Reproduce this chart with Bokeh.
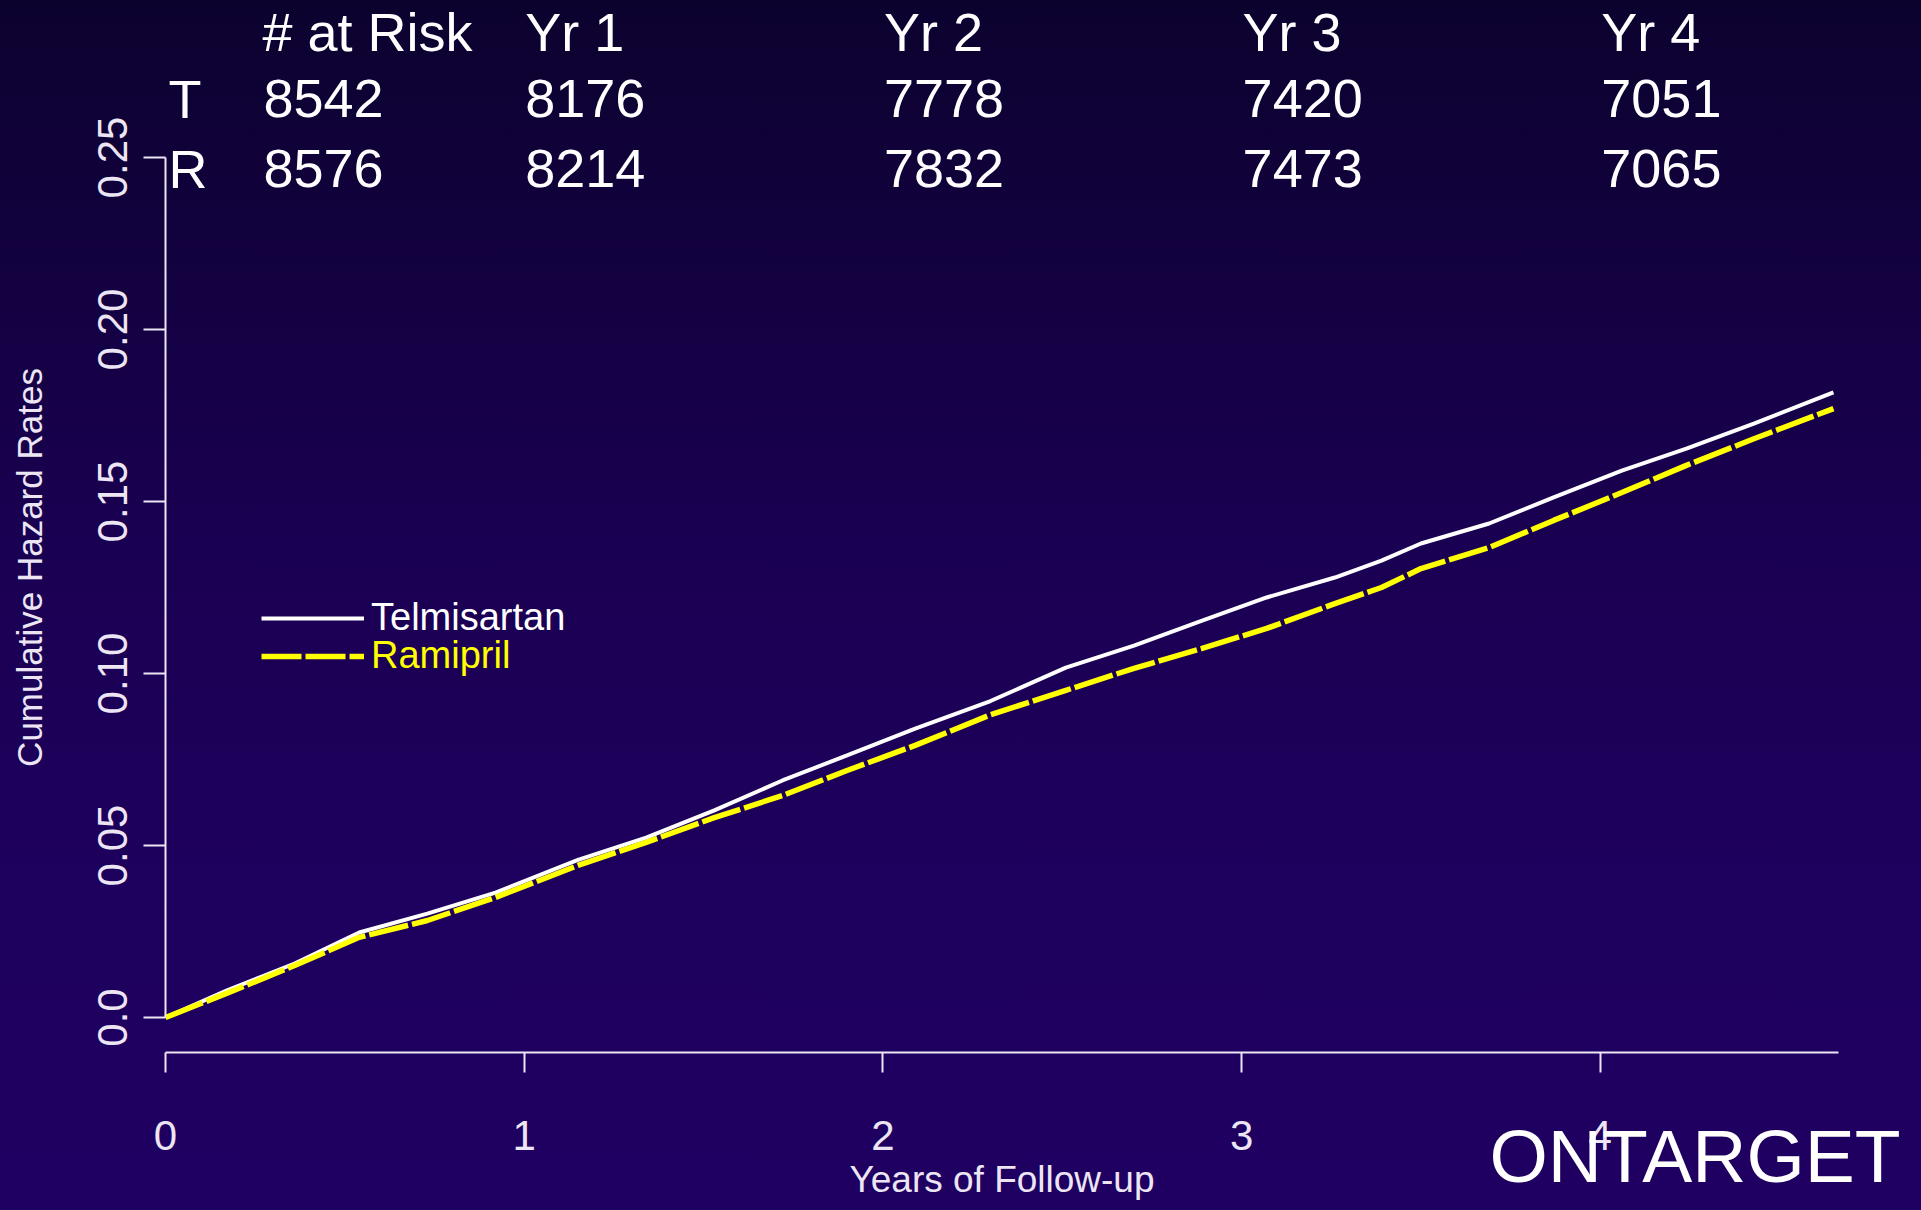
from bokeh.plotting import figure
from bokeh.models import (LinearAxis, FixedTicker, CustomJSTickFormatter, Legend,
                          LegendItem, ColumnDataSource, Label, Range1d)
from bokeh.core.properties import value
from bokeh.embed import file_html
from bokeh.resources import INLINE

# ---------------- data ----------------
years = [0.0, 0.17, 0.36, 0.54, 0.73, 0.92, 1.15, 1.34, 1.53, 1.72, 1.90, 2.09, 2.30,
         2.51, 2.70, 2.89, 3.07, 3.26, 3.39, 3.50, 3.69, 3.87, 4.06, 4.24, 4.43, 4.65]
telmisartan = [0.0, 0.0078, 0.0157, 0.0247, 0.0302, 0.0363, 0.0458, 0.0523, 0.0602,
               0.0689, 0.0762, 0.0840, 0.0920, 0.1017, 0.1081, 0.1154, 0.1221, 0.1279,
               0.1328, 0.1378, 0.1436, 0.1512, 0.1590, 0.1654, 0.1727, 0.1817]
ramipril = [0.0, 0.0070, 0.0151, 0.0233, 0.0282, 0.0349, 0.0442, 0.0509, 0.0581,
            0.0645, 0.0718, 0.0791, 0.0880, 0.0951, 0.1015, 0.1073, 0.1131, 0.1203,
            0.1250, 0.1305, 0.1366, 0.1445, 0.1526, 0.1605, 0.1683, 0.1770]

risk_years = [1, 2, 3, 4]
risk_header = ["Yr 1", "Yr 2", "Yr 3", "Yr 4"]
risk_T = [8176, 7778, 7420, 7051]
risk_R = [8214, 7832, 7473, 7065]
risk_T0 = 8542
risk_R0 = 8576

y_ticks = [0.0, 0.05, 0.10, 0.15, 0.20, 0.25]
x_ticks = [0, 1, 2, 3, 4]

# ---------------- layout ----------------
W, H = 1921, 1210
X0_PX = 165.0          # screen x of t = 0
PX_PER_YEAR = 358.7
Y0_PX = 1017.0         # screen y of value 0
PX_PER_UNIT = 3440.0

def xpx(px):
    return (px - X0_PX) / PX_PER_YEAR

def ypx(py):
    return (Y0_PX - py) / PX_PER_UNIT

FONT = "Liberation Sans"
FG = "#ece6f4"

p = figure(width=W, height=H,
           x_range=Range1d(xpx(0), xpx(W)), y_range=Range1d(ypx(H), ypx(0)),
           x_axis_type=None, y_axis_type=None,
           toolbar_location=None, output_backend="svg", min_border=0)
p.outline_line_color = None
p.background_fill_alpha = 0
p.border_fill_alpha = 0

# curves
r_t = p.line(years, telmisartan, line_color="#ffffff", line_width=4)
r_r = p.line(years, ramipril, line_color="#ffff00", line_width=5.5, line_dash="40 4")

# y axis (R style, detached from x axis)
yax = LinearAxis(fixed_location=0, bounds=(0, 0.25),
                 ticker=FixedTicker(ticks=y_ticks),
                 formatter=CustomJSTickFormatter(code="return tick == 0 ? '0.0' : tick.toFixed(2);"))
yax.major_label_orientation = "vertical"
xax = LinearAxis(fixed_location=ypx(1052), bounds=(0, xpx(1838)),
                 ticker=FixedTicker(ticks=x_ticks),
                 axis_label="Years of Follow-up")
for ax, so in ((yax, 17), (xax, 48)):
    ax.axis_line_color = FG
    ax.axis_line_width = 2
    ax.major_tick_line_color = FG
    ax.major_tick_line_width = 2
    ax.major_tick_in = 0
    ax.minor_tick_line_color = None
    ax.major_label_text_color = FG
    ax.major_label_text_font = FONT
    ax.major_label_standoff = so
    ax.axis_label_text_color = FG
    ax.axis_label_text_font = FONT
    ax.axis_label_text_font_style = "normal"
yax.major_tick_out = 22
yax.major_label_text_font_size = "42px"
xax.major_tick_out = 20
xax.major_label_text_font_size = "42px"
xax.axis_label_text_font_size = "37px"
xax.axis_label_standoff = 6
p.add_layout(yax, "left")
p.add_layout(xax, "below")

# y-axis title, centred on the plotting region like R does
ylab = LinearAxis(fixed_location=0, bounds=(ypx(1057), ypx(77)),
                  ticker=FixedTicker(ticks=[]), axis_label="Cumulative Hazard Rates",
                  axis_line_color=None, major_tick_out=0, major_tick_in=0,
                  minor_tick_out=0, minor_tick_in=0, major_label_standoff=0,
                  axis_label_standoff=117, axis_label_text_font=FONT,
                  axis_label_text_font_size="35px", axis_label_text_font_style="normal",
                  axis_label_text_color=FG)
p.add_layout(ylab, "left")

# at-risk table (y given as visual centre of each row)
rows_x = [xpx(261)] + risk_years
rows_y = [ypx(31)] * 5
rows_t = ["# at Risk"] + risk_header
for lab, first, vals, mid in (("T", risk_T0, risk_T, 98), ("R", risk_R0, risk_R, 168)):
    rows_x += [xpx(167), xpx(262)] + risk_years
    rows_y += [ypx(mid)] * 6
    rows_t += [lab, str(first)] + [str(v) for v in vals]
src = ColumnDataSource(dict(x=rows_x, y=rows_y, text=rows_t))
p.text(x="x", y="y", text="text", source=src, text_font=value(FONT),
       text_font_size=value("54px"), text_color="#ffffff",
       text_baseline="alphabetic", text_align="left", x_offset=1)

# legends (two, for per-label colours)
for item, col, line_py in ((LegendItem(label="Telmisartan", renderers=[r_t]), "#ffffff", 624),
                           (LegendItem(label="Ramipril", renderers=[r_r]), "#ffff00", 662)):
    h = 30
    lg = Legend(items=[item], location=(261, H - (line_py + h / 2)),
                glyph_width=103, glyph_height=h, label_height=h,
                spacing=0, padding=0, margin=0, label_standoff=7,
                border_line_color=None, background_fill_alpha=0,
                label_text_font=FONT, label_text_font_size="38px",
                label_text_color=col)
    p.add_layout(lg)

p.add_layout(Label(x=xpx(1489), y=ypx(1155), text="ONTARGET",
                   text_font=FONT, text_font_size="75px", text_color="#ffffff",
                   text_baseline="alphabetic", text_align="left"))

TEMPLATE = """{% block preamble %}<style>html,body{margin:0;padding:0;overflow:hidden;}html{min-height:100%;background:linear-gradient(to bottom,#0c022e 0%,#1a0052 45%,#1e005e 75%,#1f0062 100%);}</style>{% endblock %}
"""

open("out.html", "w").write(file_html(p, INLINE, title="ONTARGET", template=TEMPLATE))
